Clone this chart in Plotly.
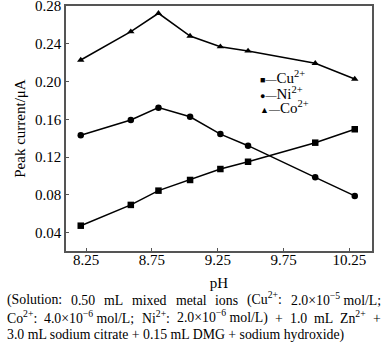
import re
import plotly.graph_objects as go

ph = [8.21, 8.59, 8.80, 9.04, 9.27, 9.48, 9.99, 10.29]
cu = [0.0474, 0.0694, 0.0845, 0.0958, 0.1074, 0.1151, 0.1353, 0.1495]
ni = [0.1431, 0.1593, 0.1724, 0.1627, 0.1444, 0.1321, 0.0986, 0.0789]
co = [0.2228, 0.2528, 0.2723, 0.2482, 0.2369, 0.2324, 0.2193, 0.2027]

x_ticks = [8.25, 8.75, 9.25, 9.75, 10.25]
y_ticks = [0.04, 0.08, 0.12, 0.16, 0.20, 0.24, 0.28]

series = [("Cu", cu, "square"), ("Ni", ni, "circle"), ("Co", co, "triangle-up")]

caption_lines = [
    ["(Solution:", "0.50", "mL", "mixed", "metal", "ions", "(Cu<sup>2+</sup>:",
     "2.0×10<sup>−5</sup> mol/L;"],
    ["Co<sup>2+</sup>:", "4.0×10<sup>−6</sup> mol/L;", "Ni<sup>2+</sup>:",
     "2.0×10<sup>−6</sup> mol/L)", "+", "1.0", "mL", "Zn<sup>2+</sup>", "+"],
    ["3.0 mL sodium citrate + 0.15 mL DMG + sodium hydroxide)"],
]

FONT = "Liberation Serif, Times New Roman, serif"

W, H = 382, 357
L, R, T, B = 66, 10, 6, 106
PW, PH = W - L - R, H - T - B


def px(xp):
    return (xp - L) / PW


def py(yp):
    return (H - B - yp) / PH


# Times / Liberation Serif advance widths (per 1000 em)
CW = {" ": 250, "(": 333, ")": 333, "+": 564, ".": 250, "/": 278, ":": 278, ";": 278,
      "×": 564, "−": 564, "A": 722, "C": 667, "D": 722, "G": 722, "L": 611, "M": 889,
      "N": 722, "S": 556, "Z": 611, "a": 444, "b": 500, "c": 444, "d": 500, "e": 444,
      "h": 500, "i": 278, "l": 278, "m": 778, "n": 500, "o": 500, "r": 333, "s": 389,
      "t": 278, "u": 500, "x": 500, "y": 500}


def text_width(s, size):
    w = 0.0
    for part in re.split(r"(<sup>.*?</sup>)", s):
        scale = 1.0
        if part.startswith("<sup>"):
            part = part[5:-6]
            scale = 0.7
        for ch in part:
            w += CW.get(ch, 500) * scale
    return w * size / 1000.0


fig = go.Figure()
for name, vals, sym in series:
    fig.add_trace(go.Scatter(
        x=ph, y=vals, mode="lines+markers", name=name,
        line=dict(color="black", width=1.5),
        marker=dict(symbol=sym, size=6.5, color="black"),
        showlegend=False, hoverinfo="skip",
    ))

axis_common = dict(
    showline=True, mirror=True, linecolor="#555", linewidth=1.5,
    ticks="inside", ticklen=3, tickcolor="#555", showgrid=False, zeroline=False,
    automargin=False, ticklabeloverflow="allow",
    tickfont=dict(family=FONT, size=15, color="black"),
)

fig.update_layout(
    width=W, height=H,
    margin=dict(l=L, r=R, t=T, b=B, autoexpand=False),
    paper_bgcolor="white", plot_bgcolor="white",
    font=dict(family=FONT, color="black"),
    hovermode=False,
    xaxis=dict(range=[8.098, 10.421], tickvals=x_ticks,
               ticktext=[f"{v:.2f}" for v in x_ticks],
               ticklabelstandoff=-6,
               title=dict(text="pH", font=dict(family=FONT, size=15), standoff=11),
               **axis_common),
    yaxis=dict(range=[0.0206, 0.28], tickvals=y_ticks,
               ticktext=[f"{v:.2f}" for v in y_ticks],
               title=dict(text="Peak current/μA", font=dict(family=FONT, size=15), standoff=6),
               **axis_common),
)

# legend as annotations
legend_rows = [
    ('<span style="font-size:9px">■</span>', "Cu<sup>2+</sup>", 80),
    ('<span style="font-size:9px">●</span>', "Ni<sup>2+</sup>", 95.7),
    ('<span style="font-size:9px">▲</span>', "Co<sup>2+</sup>", 110),
]
for sym, lab, ypx in legend_rows:
    fig.add_annotation(
        xref="paper", yref="paper", x=px(258), y=py(ypx + 8),
        xanchor="left", yanchor="bottom", showarrow=False,
        text=sym + '<span style="font-size:11px">—</span>' + lab,
        font=dict(family=FONT, size=15, color="black"),
    )

# caption: first two lines justified between x=5 and x=379, last line natural
CAP_SIZE = 13.8
CAP_LEFT, CAP_RIGHT = 5, 379
baselines = [306, 324, 341]
for li, (words, base) in enumerate(zip(caption_lines, baselines)):
    widths = [text_width(w, CAP_SIZE) for w in words]
    if len(words) > 1 and li < len(caption_lines) - 1:
        gap = (CAP_RIGHT - CAP_LEFT - sum(widths)) / (len(words) - 1)
    else:
        gap = 0
    xpos = CAP_LEFT
    for w, wd in zip(words, widths):
        fig.add_annotation(
            xref="paper", yref="paper", x=px(xpos), y=py(base + 4),
            xanchor="left", yanchor="bottom", showarrow=False,
            text=w, font=dict(family=FONT, size=CAP_SIZE, color="black"),
        )
        xpos += wd + gap

fig.write_html("out.html", config={"displayModeBar": False},
               post_script="document.body.style.margin='0';")
